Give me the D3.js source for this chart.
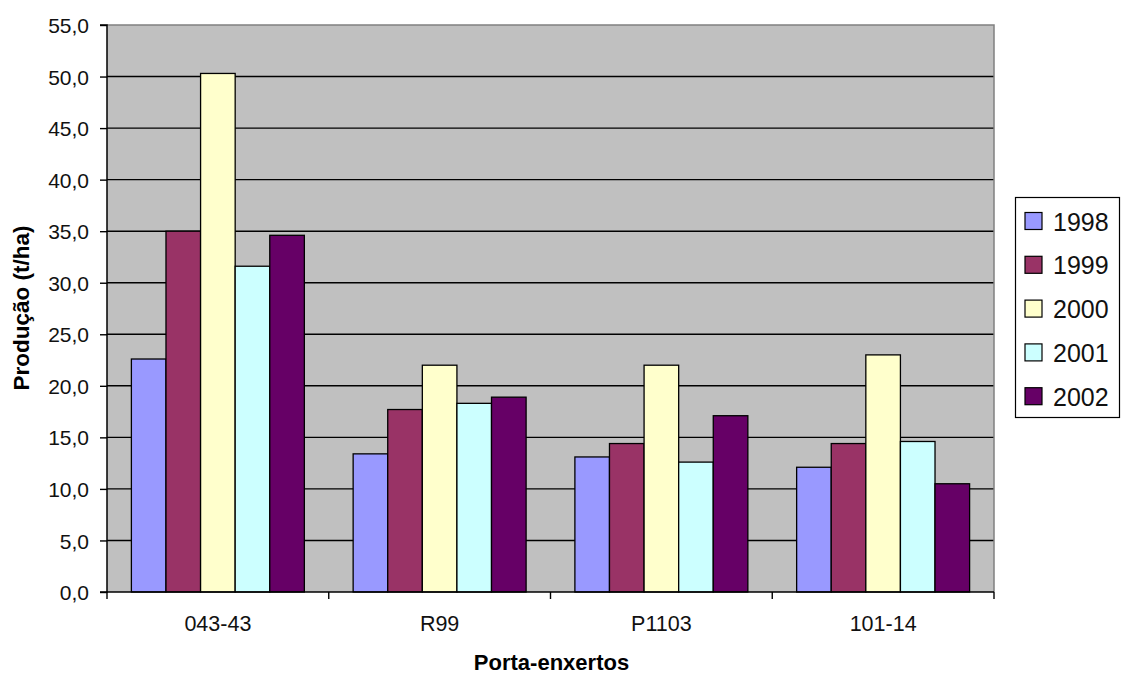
<!DOCTYPE html>
<html><head><meta charset="utf-8">
<script src="https://cdn.jsdelivr.net/npm/d3@7"></script>
<style>body{margin:0;background:#fff}svg{display:block}</style>
</head><body>
<svg id="c" width="1121" height="675"></svg>
<script>
const categories = ["043-43", "R99", "P1103", "101-14"];
const years = ["1998", "1999", "2000", "2001", "2002"];
const v1998 = [22.6, 13.4, 13.1, 12.1];
const v1999 = [35.0, 17.7, 14.4, 14.4];
const v2000 = [50.3, 22.0, 22.0, 23.0];
const v2001 = [31.6, 18.3, 12.6, 14.6];
const v2002 = [34.6, 18.9, 17.1, 10.5];
const yTicks = [0, 5, 10, 15, 20, 25, 30, 35, 40, 45, 50, 55];
const colors = ["#9999ff", "#993366", "#ffffcc", "#ccffff", "#660066"];
const series = [v1998, v1999, v2000, v2001, v2002];

const svg = d3.select("#c");
const L = 107, R = 994, T = 25, B = 592;
const x = d3.scaleBand().domain(categories).range([L, R]).padding(0);
const bw = x.bandwidth();
const pad = bw * 0.11;
const x1 = d3.scaleBand().domain(years).range([pad, bw - pad]).padding(0);
const y = d3.scaleLinear().domain([0, 55]).range([B, T]);

// plot background
svg.append("rect").attr("x", L).attr("y", T).attr("width", R - L).attr("height", B - T)
  .attr("fill", "#c0c0c0");
// gridlines
svg.append("g").selectAll("line").data(yTicks.filter(d => d > 0 && d < 55)).join("line")
  .attr("x1", L).attr("x2", R).attr("y1", d => y(d)).attr("y2", d => y(d))
  .attr("stroke", "#000").attr("stroke-width", 1.4);
// border top/right
svg.append("path").attr("d", `M${L},${T}H${R}V${B}`).attr("fill", "none")
  .attr("stroke", "#808080").attr("stroke-width", 1.5);

// bars
const g = svg.append("g");
series.forEach((vals, si) => {
  g.selectAll(null).data(vals).join("rect")
    .attr("x", (d, i) => x(categories[i]) + x1(years[si]))
    .attr("y", d => y(d))
    .attr("width", x1.bandwidth())
    .attr("height", d => B - y(d))
    .attr("fill", colors[si])
    .attr("stroke", "#000").attr("stroke-width", 1.3);
});

// y axis
const yAxis = d3.axisLeft(y).tickValues(yTicks).tickSize(7).tickPadding(11)
  .tickFormat(d => d3.format(".1f")(d).replace(".", ","));
const ya = svg.append("g").attr("transform", `translate(${L},0)`).call(yAxis);
ya.select(".domain").attr("stroke", "#000").attr("stroke-width", 1.5).attr("d", `M-7,${T}H0V${B}H-7`);
ya.selectAll(".tick line").attr("stroke", "#000").attr("stroke-width", 1.4);
ya.selectAll("text").attr("font-family", "Liberation Sans, Arial, sans-serif")
  .attr("font-size", 21).attr("fill", "#111").attr("dy", "0.36em");

// x axis
const xa = svg.append("g").attr("transform", `translate(0,${B})`);
xa.append("line").attr("x1", L).attr("x2", R).attr("y1", 0).attr("y2", 0)
  .attr("stroke", "#000").attr("stroke-width", 1.5);
const edges = categories.map(c => x(c)).concat([R]);
xa.selectAll("line.t").data(edges).join("line").attr("class", "t")
  .attr("x1", d => d).attr("x2", d => d).attr("y1", 0).attr("y2", 7)
  .attr("stroke", "#000").attr("stroke-width", 1.4);
xa.selectAll("text").data(categories).join("text")
  .attr("x", d => x(d) + bw / 2).attr("y", 39)
  .attr("text-anchor", "middle")
  .attr("font-family", "Liberation Sans, Arial, sans-serif").attr("font-size", 21.5).attr("fill", "#111")
  .text(d => d);

// titles
svg.append("text").attr("x", L + (R - L) / 2 + 1).attr("y", 670)
  .attr("text-anchor", "middle").attr("font-family", "Liberation Sans, Arial, sans-serif")
  .attr("font-weight", "bold").attr("font-size", 22).attr("fill", "#000").text("Porta-enxertos");
svg.append("text").attr("transform", "translate(29,308) rotate(-90)")
  .attr("text-anchor", "middle").attr("font-family", "Liberation Sans, Arial, sans-serif")
  .attr("font-weight", "bold").attr("font-size", 22.5).attr("fill", "#000").text("Produção (t/ha)");

// legend
const lg = svg.append("g");
lg.append("rect").attr("x", 1015.5).attr("y", 197.5).attr("width", 104).attr("height", 220)
  .attr("fill", "#fff").attr("stroke", "#000").attr("stroke-width", 1.2);
const items = lg.selectAll("g.it").data(years).join("g").attr("class", "it")
  .attr("transform", (d, i) => `translate(1025,${221 + i * 43.8})`);
items.append("rect").attr("x", 0).attr("y", -8.5).attr("width", 17).attr("height", 17)
  .attr("fill", (d, i) => colors[i]).attr("stroke", "#000").attr("stroke-width", 1.2);
items.append("text").attr("x", 28).attr("y", 9.5)
  .attr("font-family", "Liberation Sans, Arial, sans-serif").attr("font-size", 25).attr("fill", "#111")
  .text(d => d);
</script>
</body></html>
